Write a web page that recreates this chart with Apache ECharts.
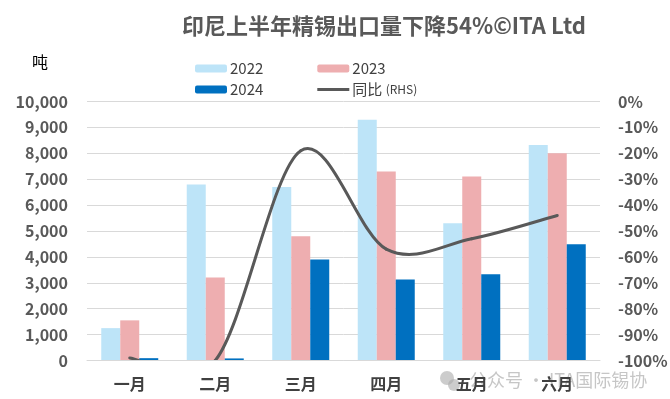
<!DOCTYPE html>
<html>
<head>
<meta charset="utf-8">
<script src="https://cdn.jsdelivr.net/npm/echarts@6/dist/echarts.min.js"></script>
<style>
  html, body { margin: 0; padding: 0; background: #fff; }
  #chart { width: 670px; height: 399px; }
</style>
</head>
<body>
<div id="chart"></div>
<script>
const months = ['一月', '二月', '三月', '四月', '五月', '六月'];
const y2022 = [1250, 6800, 6700, 9300, 5300, 8320];
const y2023 = [1550, 3200, 4800, 7300, 7100, 8000];
const y2024 = [90, 80, 3900, 3130, 3330, 4490];
// 同比 (RHS), %
const yoy = [-99, -100, -19, -57, -53, -44];

const font = 'Noto Sans CJK SC';
const chart = echarts.init(document.getElementById('chart'));

const legendBase = {
    left: 190,
    itemWidth: 32,
    itemHeight: 8,
    itemGap: 54,
    textStyle: {
        fontFamily: font,
        fontSize: 15,
        color: '#404040',
        padding: [0, 0, 0, -2],
        rich: {
            a: { fontFamily: font, fontSize: 15, color: '#404040' },
            b: { fontFamily: font, fontSize: 12, color: '#404040' }
        }
    },
    formatter: function (name) {
        if (name === '同比 (RHS)') return '{a|同比} {b|(RHS)}';
        return name;
    }
};

// Excel-style smoothed line: one bezier segment per point, control points from neighbours
const renderSmoothSegment = (params, api) => {
    const i = params.dataIndex;
    const n = yoy.length;
    if (i >= n - 1) return null;
    const pt = (j) => {
        const k = Math.min(Math.max(j, 0), n - 1);
        return api.coord([k, yoy[k]]);
    };
    const p0 = pt(i - 1), p1 = pt(i), p2 = pt(i + 1), p3 = pt(i + 2);
    return {
        type: 'bezierCurve',
        shape: {
            x1: p1[0], y1: p1[1],
            x2: p2[0], y2: p2[1],
            cpx1: p1[0] + (p2[0] - p0[0]) / 6,
            cpy1: p1[1] + (p2[1] - p0[1]) / 6,
            cpx2: p2[0] - (p3[0] - p1[0]) / 6,
            cpy2: p2[1] - (p3[1] - p1[1]) / 6
        },
        style: { stroke: '#595959', lineWidth: 3, fill: null, lineCap: 'round' }
    };
};

const option = {
    animation: false,
    textStyle: { fontFamily: font },
    title: {
        text: '印尼上半年精锡出口量下降54%©ITA Ltd',
        left: 177,
        top: 10,
        textStyle: {
            fontFamily: font,
            fontSize: 22,
            fontWeight: 'bold',
            color: '#595959'
        }
    },
    legend: [
        Object.assign({}, legendBase, { top: 56, data: ['2022', '2023'] }),
        Object.assign({}, legendBase, {
            top: 77,
            data: ['2024', { name: '同比 (RHS)', icon: 'path://M0,0 H32 V3 H0 Z' }]
        })
    ],
    grid: {
        left: 87,
        right: 70,
        top: 101.5,
        bottom: 38.5,
        outerBoundsMode: 'none'
    },
    xAxis: {
        type: 'category',
        data: months,
        z: 10,
        axisLine: { show: true, lineStyle: { color: '#d9d9d9' } },
        axisTick: { show: false },
        axisLabel: {
            margin: 15,
            fontFamily: font,
            fontSize: 16,
            fontWeight: 'bold',
            color: '#404040'
        }
    },
    yAxis: [
        {
            type: 'value',
            min: 0,
            max: 10000,
            interval: 1000,
            axisLine: { show: false },
            axisTick: { show: false },
            splitLine: { lineStyle: { color: '#d9d9d9', width: 1 } },
            axisLabel: {
                margin: 19,
                fontFamily: font,
                fontSize: 16,
                fontWeight: 'bold',
                color: '#595959',
                formatter: function (v) {
                    return v.toLocaleString('en-US');
                }
            }
        },
        {
            type: 'value',
            min: -100,
            max: 0,
            interval: 10,
            axisLine: { show: false },
            axisTick: { show: false },
            splitLine: { show: false },
            axisLabel: {
                margin: 18,
                fontFamily: font,
                fontSize: 16,
                fontWeight: 'bold',
                color: '#595959',
                formatter: '{value}%'
            }
        }
    ],
    series: [
        {
            name: '2022',
            type: 'bar',
            barWidth: 19,
            barGap: '0%',
            itemStyle: { color: '#bde4f8' },
            data: y2022
        },
        {
            name: '2023',
            type: 'bar',
            barWidth: 19,
            barGap: '0%',
            itemStyle: { color: '#eeaeb0' },
            data: y2023
        },
        {
            name: '2024',
            type: 'bar',
            barWidth: 19,
            barGap: '0%',
            itemStyle: { color: '#0070c0' },
            data: y2024
        },
        {
            name: '同比 (RHS)',
            type: 'custom',
            yAxisIndex: 1,
            clip: true,
            z: 5,
            itemStyle: { color: '#595959' },
            encode: { x: 0, y: 1 },
            renderItem: renderSmoothSegment,
            data: yoy.map((v, i) => [i, v])
        }
    ],
    graphic: [
        {
            type: 'text',
            left: 32,
            top: 54,
            style: {
                text: '吨',
                fontFamily: font,
                fontSize: 16,
                fill: '#000'
            }
        },
        {
            type: 'group',
            z: 1,
            children: [
                {
                    type: 'circle',
                    shape: { cx: 447, cy: 378, r: 7 },
                    style: { fill: 'rgba(170,170,170,0.6)' }
                },
                {
                    type: 'circle',
                    shape: { cx: 454, cy: 385, r: 6 },
                    style: { fill: 'rgba(170,170,170,0.6)' }
                },
                {
                    type: 'text',
                    x: 469,
                    y: 371,
                    style: {
                        text: '公众号 · ITA国际锡协',
                        fontFamily: font,
                        fontSize: 18,
                        fill: 'rgba(160,160,160,0.6)'
                    }
                }
            ]
        }
    ]
};

chart.setOption(option);
</script>
</body>
</html>
